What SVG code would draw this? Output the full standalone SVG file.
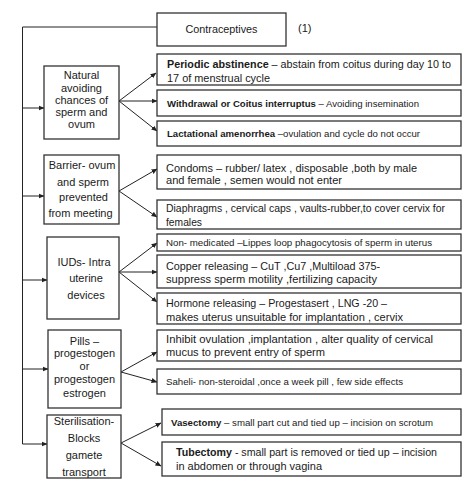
<svg xmlns="http://www.w3.org/2000/svg" width="474" height="485" viewBox="0 0 474 485">
<defs>
<marker id="ah" markerWidth="6" markerHeight="6" refX="5.5" refY="3" orient="auto" markerUnits="userSpaceOnUse">
<path d="M0,0.5 L6,3 L0,5.5 Z" fill="#222"/>
</marker>
<style>
.box{fill:#fff;stroke:#333;stroke-width:1.3}
.t{font-family:"Liberation Sans",Arial,sans-serif;fill:#1a1a1a}
.l{font-size:11px;text-anchor:middle}
.r{font-size:11px}
.s{font-size:9.5px}
.c{fill:none;stroke:#222;stroke-width:1}
.b{font-weight:bold}
</style>
</defs>
<rect width="474" height="485" fill="#fff"/>

<g id="connectors">
<path class="c" d="M157,27 H22.5 V444 H47" marker-end="url(#ah)"/>
<path class="c" d="M22.5,108 H44" marker-end="url(#ah)"/>
<path class="c" d="M22.5,196 H44" marker-end="url(#ah)"/>
<path class="c" d="M22.5,280 H47" marker-end="url(#ah)"/>
<path class="c" d="M22.5,369 H48" marker-end="url(#ah)"/>
<path class="c" d="M119,101 L156,73" marker-end="url(#ah)"/>
<path class="c" d="M119,101 L157,101" marker-end="url(#ah)"/>
<path class="c" d="M119,101 L157,131" marker-end="url(#ah)"/>
<path class="c" d="M119,191 L157,169" marker-end="url(#ah)"/>
<path class="c" d="M119,191 L157,217" marker-end="url(#ah)"/>
<path class="c" d="M119,272 L157,243" marker-end="url(#ah)"/>
<path class="c" d="M119,272 L157,272" marker-end="url(#ah)"/>
<path class="c" d="M119,272 L157,302" marker-end="url(#ah)"/>
<path class="c" d="M121,372 L157,352" marker-end="url(#ah)"/>
<path class="c" d="M121,372 L157,382" marker-end="url(#ah)"/>
<path class="c" d="M121,443 L161,423" marker-end="url(#ah)"/>
<path class="c" d="M121,443 L161,466" marker-end="url(#ah)"/>
</g>

<g id="root">
<rect class="box" x="157" y="13" width="129" height="33"/>
<text class="t" x="221.5" y="33" font-size="11.5" text-anchor="middle" textLength="72" lengthAdjust="spacingAndGlyphs">Contraceptives</text>
<text class="t" x="298" y="32" font-size="11">(1)</text>
</g>

<g id="natural">
<rect class="box" x="44" y="66" width="75" height="73"/>
<text class="t l" x="81.5" y="79">Natural</text>
<text class="t l" x="81.5" y="91.5">avoiding</text>
<text class="t l" x="81.5" y="104">chances of</text>
<text class="t l" x="81.5" y="116">sperm and</text>
<text class="t l" x="81.5" y="128">ovum</text>
</g>
<g id="periodic">
<rect class="box" x="157" y="54" width="304" height="31"/>
<text class="t r" x="167" y="68" textLength="284" lengthAdjust="spacingAndGlyphs"><tspan class="b">Periodic abstinence</tspan> – abstain from coitus during day 10 to</text>
<text class="t r" x="167" y="82" textLength="103" lengthAdjust="spacingAndGlyphs">17 of menstrual cycle</text>
</g>
<g id="withdrawal">
<rect class="box" x="157" y="90" width="304" height="26"/>
<text class="t s" x="167" y="106.5" textLength="252" lengthAdjust="spacingAndGlyphs"><tspan class="b">Withdrawal or Coitus interruptus</tspan> – Avoiding insemination</text>
</g>
<g id="lactational">
<rect class="box" x="157" y="121" width="304" height="25"/>
<text class="t s" x="167" y="136.5" textLength="253" lengthAdjust="spacingAndGlyphs"><tspan class="b">Lactational amenorrhea</tspan> –ovulation and cycle do not occur</text>
</g>

<g id="barrier">
<rect class="box" x="44" y="155" width="75" height="69"/>
<text class="t l" x="82" y="169">Barrier- ovum</text>
<text class="t l" x="83" y="186">and sperm</text>
<text class="t l" x="83.5" y="201">prevented</text>
<text class="t l" x="80.5" y="217">from meeting</text>
</g>
<g id="condoms">
<rect class="box" x="157" y="155" width="304" height="34"/>
<text class="t r" x="166" y="172" textLength="251" lengthAdjust="spacingAndGlyphs">Condoms – rubber/ latex , disposable ,both by male</text>
<text class="t r" x="166" y="184" textLength="176" lengthAdjust="spacingAndGlyphs">and female , semen would not enter</text>
</g>
<g id="diaphragms">
<rect class="box" x="157" y="200" width="304" height="29"/>
<text class="t r" x="166" y="212" textLength="279" lengthAdjust="spacingAndGlyphs">Diaphragms , cervical caps , vaults-rubber,to cover cervix for</text>
<text class="t r" x="166" y="226" textLength="36" lengthAdjust="spacingAndGlyphs">females</text>
</g>

<g id="iuds">
<rect class="box" x="47" y="237" width="72" height="82"/>
<text class="t l" x="84" y="266">IUDs- Intra</text>
<text class="t l" x="86" y="282">uterine</text>
<text class="t l" x="86" y="299">devices</text>
</g>
<g id="nonmedicated">
<rect class="box" x="157" y="234" width="304" height="17"/>
<text class="t s" x="166" y="246" textLength="266" lengthAdjust="spacingAndGlyphs">Non- medicated –Lippes loop phagocytosis of sperm in uterus</text>
</g>
<g id="copper">
<rect class="box" x="157" y="255" width="304" height="33"/>
<text class="t r" x="166" y="270" textLength="214" lengthAdjust="spacingAndGlyphs">Copper releasing – CuT ,Cu7 ,Multiload 375-</text>
<text class="t r" x="166" y="283" textLength="211" lengthAdjust="spacingAndGlyphs">suppress sperm motility ,fertilizing capacity</text>
</g>
<g id="hormone">
<rect class="box" x="157" y="293" width="304" height="31"/>
<text class="t r" x="166" y="307" textLength="221" lengthAdjust="spacingAndGlyphs">Hormone releasing – Progestasert , LNG -20 –</text>
<text class="t r" x="166" y="321" textLength="237" lengthAdjust="spacingAndGlyphs">makes uterus unsuitable for implantation , cervix</text>
</g>

<g id="pills">
<rect class="box" x="48" y="330" width="73" height="78"/>
<text class="t l" x="84.5" y="345">Pills –</text>
<text class="t l" x="84.5" y="357">progestogen</text>
<text class="t l" x="84.5" y="370">or</text>
<text class="t l" x="84.5" y="383">progestogen</text>
<text class="t l" x="84.5" y="397">estrogen</text>
</g>
<g id="inhibit">
<rect class="box" x="157" y="330" width="304" height="31"/>
<text class="t r" x="166" y="343" textLength="267" lengthAdjust="spacingAndGlyphs">Inhibit ovulation ,implantation , alter quality of cervical</text>
<text class="t r" x="166" y="356" textLength="159" lengthAdjust="spacingAndGlyphs">mucus to prevent entry of sperm</text>
</g>
<g id="saheli">
<rect class="box" x="157" y="369" width="304" height="25"/>
<text class="t s" x="166" y="384.5" textLength="237" lengthAdjust="spacingAndGlyphs">Saheli- non-steroidal ,once a week pill , few side effects</text>
</g>

<g id="sterilisation">
<rect class="box" x="47" y="415" width="74" height="63"/>
<text class="t l" x="84" y="425">Sterilisation-</text>
<text class="t l" x="84" y="442">Blocks</text>
<text class="t l" x="84" y="459">gamete</text>
<text class="t l" x="84" y="476">transport</text>
</g>
<g id="vasectomy">
<rect class="box" x="162" y="409" width="299" height="26"/>
<text class="t s" x="171" y="425.5" textLength="262" lengthAdjust="spacingAndGlyphs"><tspan class="b">Vasectomy</tspan> – small part cut and tied up – incision on scrotum</text>
</g>
<g id="tubectomy">
<rect class="box" x="162" y="442" width="299" height="34"/>
<text class="t r" x="176" y="456" textLength="261" lengthAdjust="spacingAndGlyphs"><tspan class="b">Tubectomy</tspan> - small part is removed or tied up – incision</text>
<text class="t r" x="176" y="470" textLength="146" lengthAdjust="spacingAndGlyphs">in abdomen or through vagina</text>
</g>
</svg>
